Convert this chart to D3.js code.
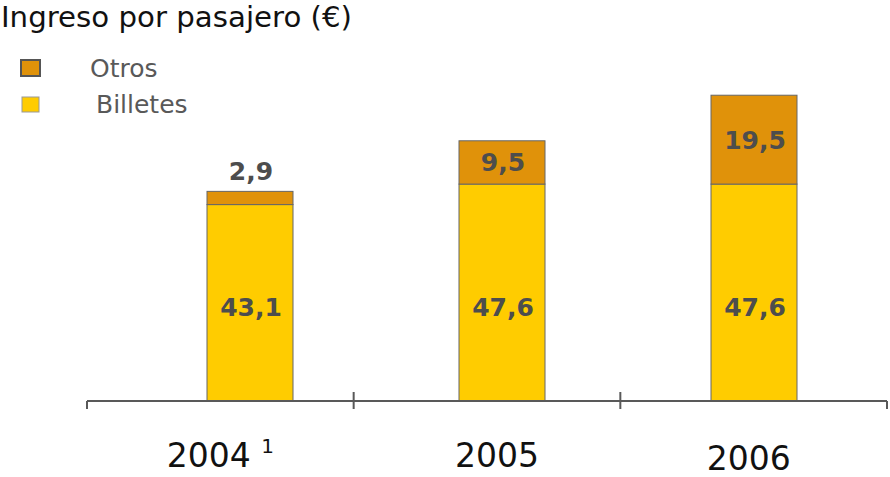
<!DOCTYPE html>
<html>
<head>
<meta charset="utf-8">
<script src="https://cdn.jsdelivr.net/npm/d3@7"></script>
<style>
  html, body { margin: 0; padding: 0; background: #fff; }
  svg { display: block; font-family: "DejaVu Sans", Verdana, sans-serif; }
</style>
</head>
<body>
<svg id="chart" width="890" height="477"></svg>
<script>
const categories = ["2004", "2005", "2006"];
const billetes = [43.1, 47.6, 47.6];
const otros = [2.9, 9.5, 19.5];
const valueLabelsBilletes = ["43,1", "47,6", "47,6"];
const valueLabelsOtros = ["2,9", "9,5", "19,5"];
const footnotes = ["1", "", ""];
const seriesNames = ["Otros", "Billetes"];
const title = "Ingreso por pasajero (€)";

const colors = { Otros: "#E0920A", Billetes: "#FFCC00" };

const svg = d3.select("#chart");

const axisY = 401;
const xAxis = d3.scaleBand().domain(categories).range([87, 887]);
const xBar = d3.scalePoint().domain(categories).range([250, 754]);
const barW = 86;
const y = d3.scaleLinear().domain([0, 70]).range([axisY, 82]);

// Title
svg.append("text")
  .attr("x", 1).attr("y", 27)
  .attr("font-size", 28)
  .attr("fill", "#111")
  .attr("textLength", 351)
  .attr("lengthAdjust", "spacingAndGlyphs")
  .text(title);

// Legend
const legend = svg.append("g");
legend.append("rect").attr("x", 21).attr("y", 60).attr("width", 19).attr("height", 16)
  .attr("fill", colors.Otros).attr("stroke", "#555").attr("stroke-width", 2);
legend.append("text").attr("x", 90).attr("y", 77).attr("font-size", 25)
  .attr("fill", "#595959").text(seriesNames[0]);
legend.append("rect").attr("x", 22).attr("y", 97).attr("width", 17).attr("height", 15)
  .attr("fill", colors.Billetes).attr("stroke", "#999").attr("stroke-width", 1);
legend.append("text").attr("x", 96).attr("y", 113).attr("font-size", 25)
  .attr("fill", "#595959").text(seriesNames[1]);

// Bars
const data = categories.map((c, i) => ({ c, b: billetes[i], o: otros[i], lb: valueLabelsBilletes[i], lo: valueLabelsOtros[i] }));

const g = svg.append("g");
g.selectAll("rect.billetes").data(data).join("rect")
  .attr("class", "billetes")
  .attr("x", d => xBar(d.c) - barW / 2)
  .attr("width", barW)
  .attr("y", d => y(d.b))
  .attr("height", d => y(0) - y(d.b))
  .attr("fill", colors.Billetes)
  .attr("stroke", "#666").attr("stroke-width", 1);

g.selectAll("rect.otros").data(data).join("rect")
  .attr("class", "otros")
  .attr("x", d => xBar(d.c) - barW / 2)
  .attr("width", barW)
  .attr("y", d => y(d.b + d.o))
  .attr("height", d => y(d.b) - y(d.b + d.o))
  .attr("fill", colors.Otros)
  .attr("stroke", "#666").attr("stroke-width", 1);

// Value labels
g.selectAll("text.lb").data(data).join("text")
  .attr("class", "lb")
  .attr("x", d => xBar(d.c) + 1)
  .attr("y", 316)
  .attr("text-anchor", "middle")
  .attr("font-size", 25).attr("font-weight", "bold")
  .attr("fill", "#4D4D4D")
  .text(d => d.lb);

g.selectAll("text.lo").data(data).join("text")
  .attr("class", "lo")
  .attr("x", d => xBar(d.c) + 1)
  .attr("y", d => {
    const top = y(d.b + d.o), bot = y(d.b);
    return (bot - top) < 30 ? top - 11 : (top + bot) / 2 + 9;
  })
  .attr("text-anchor", "middle")
  .attr("font-size", 25).attr("font-weight", "bold")
  .attr("fill", "#4D4D4D")
  .text(d => d.lo);

// Axis
const ax = svg.append("g");
const range = xAxis.range();
ax.append("line").attr("x1", range[0]).attr("x2", range[1])
  .attr("y1", axisY).attr("y2", axisY)
  .attr("stroke", "#595959").attr("stroke-width", 2);
const tickPos = categories.map(c => xAxis(c)).concat([range[1]]);
tickPos.forEach((t, i) => {
  const isEnd = i === 0 || i === tickPos.length - 1;
  ax.append("line").attr("x1", t).attr("x2", t)
    .attr("y1", isEnd ? axisY : axisY - 9).attr("y2", axisY + 8)
    .attr("stroke", "#595959").attr("stroke-width", 2);
});

// Category labels
const catLabelY = [467, 467, 470];
categories.forEach((c, i) => {
  const t = svg.append("text")
    .attr("x", xAxis(c) + xAxis.bandwidth() / 2 + (i === 1 ? 10 : (i === 2 ? -5 : 0)))
    .attr("y", catLabelY[i])
    .attr("text-anchor", "middle")
    .attr("font-size", 33)
    .attr("fill", "#111");
  t.append("tspan").text(c);
  if (footnotes[i]) {
    t.append("tspan").text(" ");
    t.append("tspan").attr("font-size", 20).attr("dy", -14).text(footnotes[i]);
  }
});
</script>
</body>
</html>
